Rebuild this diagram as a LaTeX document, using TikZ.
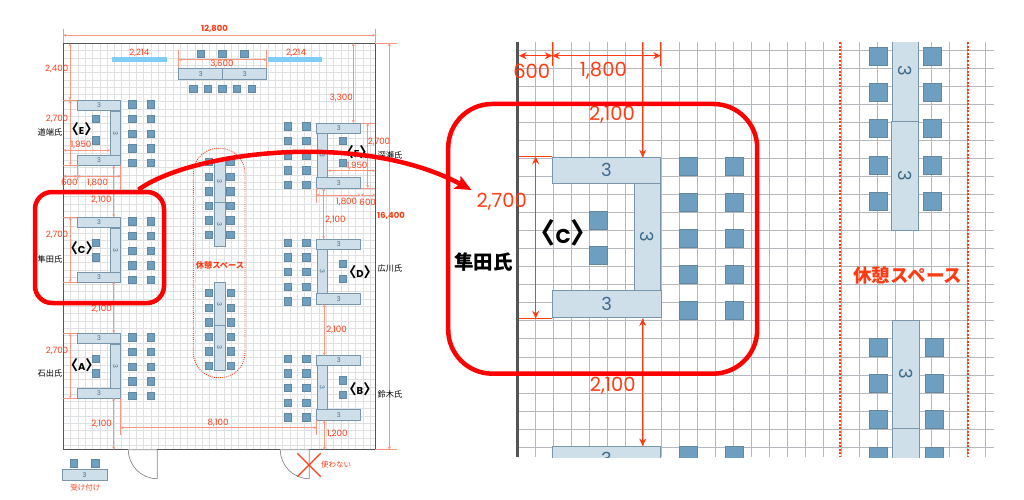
\documentclass[tikz,border=0pt]{standalone}
\usepackage{fontspec}
\setmainfont{Poppins}
\newfontfamily\cjk{Noto Sans CJK JP}
\definecolor{wall}{RGB}{85,85,85}
\definecolor{griddark}{RGB}{182,185,189}
\definecolor{gridlight}{RGB}{222,224,226}
\definecolor{tablefill}{RGB}{207,223,234}
\definecolor{tableline}{RGB}{62,106,138}
\definecolor{chairfill}{RGB}{111,159,192}
\definecolor{barblue}{RGB}{128,205,245}
\definecolor{dim}{RGB}{255,59,20}
\definecolor{dimsoft}{RGB}{248,150,130}
\definecolor{pure}{RGB}{255,0,0}
\usetikzlibrary{arrows.meta}
\tikzset{
    x=1pt, y=-1pt,
    tbl/.style n args={3}{
        rectangle, draw=tableline!70, fill=tablefill, line width=0.7pt,
        inner sep=0pt, text=tableline, minimum width=#1pt, minimum height=#2pt,
        font=\fontsize{#3}{#3}\selectfont
    },
    chair/.style = {
        rectangle, draw=tableline!80, fill=chairfill, line width=0.6pt,
        inner sep=0pt, minimum width=#1pt, minimum height=#1pt
    },
    planline/.style = {gridlight, line width=0.7pt},
    zoomline/.style = {griddark, line width=0.7pt},
    dimplan/.style = {dimsoft, line width=0.6pt, {Stealth[length=3pt,width=3pt]}-{Stealth[length=3pt,width=3pt]}},
    extplan/.style = {dimsoft, line width=0.6pt},
    dimzoom/.style = {dim, line width=0.8pt, {Stealth[length=7.5pt,width=7pt]}-{Stealth[length=7.5pt,width=7pt]}},
    dimzoomend/.style = {dim, line width=0.8pt, -{Stealth[length=7.5pt,width=7pt]}},
    extzoom/.style = {dim, line width=0.7pt},
    lab/.style = {text=dim, inner sep=0pt, font=\fontsize{8.7}{9}\selectfont},
    labbold/.style = {text=dim, inner sep=0pt, font=\fontsize{8.4}{8.4}\selectfont\bfseries},
    labzoom/.style = {text=dim, inner sep=0pt, font=\fontsize{19.5}{20}\selectfont},
    redjp/.style = {text=dim, inner sep=0pt, font=\cjk\fontsize{#1}{#1}\selectfont},
    person/.style = {text=black, inner sep=0pt, font=\cjk\fontsize{8.2}{9}\selectfont},
    tag/.style = {text=black, inner sep=0pt, font=\fontsize{#1}{#1}\selectfont\bfseries},
    callout/.style = {rectangle, draw=pure, line width=4.5pt, minimum width=#1},
    dotline/.style = {dim, line width=2.2pt, dash pattern=on 2pt off 1.6pt}
}
% bracket size, then the letter
\newcommand{\bracketed}[2]{{\cjk\fontsize{#1}{#1}\selectfont〈}#2{\cjk\fontsize{#1}{#1}\selectfont〉}}

\begin{document}
\begin{tikzpicture}
  \useasboundingbox (0,0) rectangle (1024,499);

  %% plan grid
  \foreach \k in {1,...,42} \draw[planline] ({63.3+\k*7.31},43.3) -- ({63.3+\k*7.31},449.7);
  \foreach \k in {1,...,55} \draw[planline] (63.3,{43.3+\k*7.31}) -- (375.3,{43.3+\k*7.31});

  %% plan walls and doors
  \draw[wall, line width=1.4pt] (63.3,43.3) rectangle (375.3,449.7);
  \draw[white, line width=2pt] (128.3,449.7) -- (157.3,449.7);
  \draw[white, line width=2pt] (280.3,449.7) -- (309.3,449.7);
  \draw[wall!70, line width=0.7pt] (128.3,449.7) -- (157.3,449.7) -- (157.3,478.7) arc (90:180:29);
  \draw[wall!70, line width=0.7pt] (280.3,449.7) -- (309.3,449.7) -- (309.3,478.7) arc (90:180:29);

  %% left groups
  \foreach \gy/\gn/\gi in {100.3/E/15,217.3/C/21.5,333.3/A/21.7} {
    \node[tbl={43.4}{10.4}{6.5}] (\gn top) at (99,{\gy+5.2}) {3};
    \node[tbl={43.6}{10.4}{6.5}, rotate=-90] (\gn side) at (115.5,{\gy+32.8}) {3};
    \node[tbl={43.4}{10.4}{6.5}] (\gn bottom) at (99,{\gy+59.9}) {3};
    \node[chair=7.4] (\gn in1) at (96,{\gy+\gi+3.7}) {};
    \node[chair=7.4] (\gn in2) at (96,{\gy+36.2+3.7}) {};
    \foreach \k in {0,...,4} {
      \node[chair=7.4] (\gn a\k) at (132.3,{\gy+4+\k*14.6}) {};
      \node[chair=7.4] (\gn b\k) at (150.7,{\gy+4+\k*14.6}) {};
    }
  }

  %% right groups
  \foreach \gy/\gn/\gi in {123/F/14.3,239.3/D/21,355.3/B/21.4} {
    \node[tbl={44}{10.4}{6.5}] (\gn top) at (338.7,{\gy+5.2}) {3};
    \node[tbl={43.6}{10.6}{6.5}, rotate=-90] (\gn side) at (322.3,{\gy+32.2}) {3};
    \node[tbl={44}{10.6}{6.5}] (\gn bottom) at (338.7,{\gy+59.7}) {3};
    \node[chair=7.4] (\gn in1) at (342.8,{\gy+\gi+3.7}) {};
    \node[chair=7.4] (\gn in2) at (342.8,{\gy+35.8+3.7}) {};
    \foreach \k in {0,...,4} {
      \node[chair=7.4] (\gn a\k) at (287.8,{\gy+3.4+\k*14.6}) {};
      \node[chair=7.4] (\gn b\k) at (306.3,{\gy+3.4+\k*14.6}) {};
    }
  }

  %% top table
  \node[tbl={44}{10.6}{6.5}] (topA) at (200.7,74) {3};
  \node[tbl={44}{10.6}{6.5}] (topB) at (244.7,74) {3};
  \foreach \k in {0,1,2} \node[chair=7.4] (topc\k) at ({200.5+\k*21.9},54) {};
  \foreach \k in {0,...,4} \node[chair=7.4] (topd\k) at ({193.1+\k*14.6},88.8) {};
  \fill[barblue] (112.3,57) rectangle (166.7,62);
  \fill[barblue] (268,57) rectangle (322,62);

  %% rest area tables
  \node[tbl={41.6}{11}{6.5}, rotate=-90] (restA) at (219.5,181.5) {3};
  \node[tbl={44.4}{11}{6.5}, rotate=-90] (restB) at (219.5,224.5) {3};
  \node[tbl={43.4}{11}{6.5}, rotate=-90] (restC) at (219.5,304) {3};
  \node[tbl={44.3}{11}{6.5}, rotate=-90] (restD) at (219.5,347.9) {3};
  \foreach \k in {0,...,5} {
    \node[chair=7.4] (restl\k) at (208.7,{162+\k*14.6}) {};
    \node[chair=7.4] (restr\k) at (230.1,{162+\k*14.6}) {};
    \node[chair=7.4] (restm\k) at (208.9,{293+\k*14.6}) {};
    \node[chair=7.4] (restn\k) at (231,{293+\k*14.6}) {};
  }
  \draw[dim, line width=0.9pt, dash pattern=on 0.9pt off 1.2pt, rounded corners=25pt] (193.3,148.3) rectangle (245,377.7);
  \node[redjp=8.2, font=\cjk\fontsize{8.2}{9}\selectfont\bfseries] (restlabel) at (220,265) {休憩スペース};

  %% reception
  \node[tbl={44.6}{11.4}{6.5}] (desk) at (84.6,475) {3};
  \node[chair=7.4] (deskA) at (73.9,463.4) {};
  \node[chair=7.4] (deskB) at (95.3,463.4) {};
  \node[redjp=7.5] (desklabel) at (85.3,488) {受け付け};

  %% unused door
  \draw[dim, line width=1.2pt] (297.3,453.3) -- (320.7,476.7) (320.7,453.3) -- (297.3,476.7);
  \node[redjp=7.5] (nouse) at (336,465) {使わない};

  %% plan dimensions
  \draw[extplan] (63.3,29) -- (63.3,43);
  \draw[extplan] (375.3,29) -- (375.3,43);
  \draw[dimplan] (63.3,35.3) -- (375.3,35.3);
  \node[labbold] (total) at (214.5,29) {12,800};
  \draw[extplan] (375.3,43.3) -- (397,43.3);
  \draw[extplan] (375.3,449.7) -- (397,449.7);
  \draw[dimplan] (389.3,43.3) -- (389.3,449.7);
  \node[labbold] (height) at (391,216) {16,400};

  \node[lab] at (139.3,53.3) {2,214};
  \node[lab] at (296,53.3) {2,214};
  \draw[extplan] (178.7,50) -- (178.7,68);
  \draw[extplan] (266.7,50) -- (266.7,68);
  \draw[dimplan] (178.7,59.7) -- (266.7,59.7);
  \node[lab] at (222,63.7) {3,600};

  \draw[dimplan] (70,43.3) -- (70,100);
  \node[lab] at (56.7,69.3) {2,400};

  \foreach \gy/\gn/\gt in {100.3/E/119,217.3/C/235.3,333.3/A/351} {
    \draw[extplan] (63.3,\gy) -- (77.3,\gy);
    \draw[extplan] (63.3,{\gy+65}) -- (77.3,{\gy+65});
    \draw[dimplan] (70.3,\gy) -- (70.3,{\gy+65});
    \node[lab] at (57,\gt) {2,700};
  }
  \draw[dimplan] (63.3,150.3) -- (110.3,150.3);
  \node[lab] at (81,145) {1,950};

  \draw[extplan] (77.3,165.3) -- (77.3,180);
  \draw[extplan] (120.7,165.3) -- (120.7,190);
  \draw[dimplan] (63.3,176.3) -- (77.3,176.3);
  \draw[dimplan] (77.3,176.3) -- (120.7,176.3);
  \node[lab] at (69.3,182.7) {600};
  \node[lab] at (97.7,182.7) {1,800};

  \draw[dimplan] (113.7,165.5) -- (113.7,217.3);
  \node[lab] at (101.3,200) {2,100};
  \draw[dimplan] (113.7,281.5) -- (113.7,333.3);
  \node[lab] at (101.7,309) {2,100};
  \draw[dimplan] (113.7,397.7) -- (113.7,449.7);
  \node[lab] at (101.7,424) {2,100};

  \draw[extplan] (120.7,397.7) -- (120.7,435);
  \draw[extplan] (316.7,420.3) -- (316.7,435);
  \draw[dimplan] (120.7,427.7) -- (316.7,427.7);
  \node[lab] at (218,423.3) {8,100};
  \draw[dimplan] (324.3,420.3) -- (324.3,449.7);
  \node[lab] at (337.3,434.3) {1,200};
  \draw[dimplan] (324.3,304.3) -- (324.3,355.5);
  \node[lab] at (336.7,330) {2,100};
  \draw[dimplan] (323.7,188) -- (323.7,239.3);
  \node[lab] at (335.3,220) {2,100};

  \draw[extplan] (316.7,188) -- (316.7,203);
  \draw[dimplan] (316.7,195) -- (360.7,195);
  \draw[dimplan] (360.7,195) -- (375.3,195);
  \node[lab] at (346.7,202.3) {1,800};
  \node[lab] at (367.7,202.3) {600};
  \draw[dimplan] (327.7,170.7) -- (375.3,170.7);
  \node[lab] at (357,166) {1,950};
  \draw[extplan] (360.7,123) -- (375.3,123);
  \draw[extplan] (360.7,188) -- (375.3,188);
  \draw[dimplan] (367.7,123) -- (367.7,188);
  \node[lab] at (379,141.7) {2,700};
  \draw[dimplan] (353.3,43.3) -- (353.3,123);
  \node[lab] at (341.3,97.7) {3,300};

  %% plan tags
  \node[tag=10] (tagE) at (81.7,129.3) {\bracketed{14}{E}};
  \node[tag=10] (tagC) at (81.7,248) {\bracketed{14}{C}};
  \node[tag=10] (tagA) at (81.7,365) {\bracketed{14}{A}};
  \node[tag=10] (tagF) at (356.7,151.7) {\bracketed{14}{F}};
  \node[tag=10] (tagD) at (360,271.7) {\bracketed{14}{D}};
  \node[tag=10] (tagB) at (360,389) {\bracketed{14}{B}};
  \node[person] (nameE) at (50,132) {道端氏};
  \node[person] (nameC) at (50,259) {隼田氏};
  \node[person] (nameA) at (50,373.7) {石出氏};
  \node[person] (nameF) at (390,155) {深瀬氏};
  \node[person] (nameD) at (390,268) {広川氏};
  \node[person] (nameB) at (390,394.3) {鈴木氏};

  %% zoomed view
  \begin{scope}
    \clip (515,42) rectangle (994,457);
    \foreach \k in {1,...,26} \draw[zoomline] ({517.3+\k*18.02},42) -- ({517.3+\k*18.02},457);
    \foreach \k in {0,...,22} \draw[zoomline] (517.3,{50+\k*18.05}) -- (994,{50+\k*18.05});
    \draw[wall, line width=3.6pt] (517.3,42) -- (517.3,457);

    \node[tbl={108}{26}{18}] (ztop) at (606.3,170.3) {3};
    \node[tbl={107}{25.6}{18}, rotate=-90] (zside) at (647.5,236.8) {3};
    \node[tbl={108.6}{27}{18}] (zbottom) at (606.6,303.8) {3};
    \node[tbl={108}{26}{18}] (znext) at (606.3,459.3) {3};
    \node[chair=18] (zin1) at (598.5,220.4) {};
    \node[chair=18] (zin2) at (598.5,255.5) {};
    \foreach \k in {0,...,4} {
      \node[chair=18] (za\k) at (688.7,{166.2+\k*36}) {};
      \node[chair=18] (zb\k) at (734.3,{166.2+\k*36}) {};
    }
    \node[chair=18] (za5) at (688.7,455) {};
    \node[chair=18] (zb5) at (734.3,455) {};

    \draw[dotline] (840.3,42) -- (840.3,457);
    \draw[dotline] (968,42) -- (968,457);

    \node[tbl={100}{26.4}{18}, rotate=-90] (zrestA) at (905.5,71) {3};
    \node[tbl={109.7}{27}{18}, rotate=-90] (zrestB) at (905.2,175.8) {3};
    \node[tbl={108.3}{27.3}{18}, rotate=-90] (zrestC) at (905.6,374.2) {3};
    \node[tbl={108.3}{27.3}{18}, rotate=-90] (zrestD) at (905.6,482.6) {3};
    \foreach \k in {0,...,4} {
      \node[chair=18] (zrl\k) at (878,{56.3+\k*36.2}) {};
      \node[chair=18] (zrr\k) at (932,{56.3+\k*36.2}) {};
    }
    \foreach \k in {0,...,3} {
      \node[chair=18] (zsl\k) at (878.2,{347+\k*36.3}) {};
      \node[chair=18] (zsr\k) at (934,{347+\k*36.3}) {};
    }
    \node[redjp=18.5, font=\cjk\fontsize{18.5}{19}\selectfont\bfseries] (zrestlabel) at (907.7,275.7) {休憩スペース};
  \end{scope}

  %% zoomed dimensions
  \draw[extzoom] (552.3,42) -- (552.3,66);
  \draw[extzoom] (660.7,42) -- (660.7,66);
  \draw[dimzoom] (519,55.7) -- (552.3,55.7);
  \draw[dimzoom] (552.3,55.7) -- (660.7,55.7);
  \node[labzoom] (z600) at (531.7,71) {600};
  \node[labzoom] (z1800) at (603.3,71) {1,800};
  \draw[dimzoomend] (642.7,42) -- (642.7,157.3);
  \node[labzoom] (z2100a) at (612,115) {2,100};
  \draw[extzoom] (519,156.7) -- (552.3,156.7);
  \draw[extzoom] (519,318.3) -- (552.3,318.3);
  \draw[dimzoom] (535.7,156.7) -- (535.7,318.3);
  \node[labzoom] (z2700) at (501.7,201.7) {2,700};
  \draw[dimzoom] (642.7,318.5) -- (642.7,446);
  \node[labzoom] (z2100b) at (612.7,386) {2,100};
  \node[tag=20] (ztagC) at (563.3,233) {\bracketed{28}{C}};
  \node[text=black, inner sep=0pt, font=\cjk\fontsize{19.5}{20}\selectfont\bfseries] (znameC) at (483.5,261.7) {隼田氏};

  %% call-outs
  \node[callout=129pt, minimum height=111pt, rounded corners=17pt] (small) at (99.5,247.5) {};
  \node[callout=309pt, minimum height=269.7pt, rounded corners=44pt] (big) at (602.7,238.8) {};
  \coordinate (arrowtip) at (471.5,190);
  \draw[pure, line width=4.5pt, -{Stealth[length=16pt,width=14pt,inset=3pt]}] (small.56) .. controls (190,152) and (360,130) .. (arrowtip);
\end{tikzpicture}
\end{document}
